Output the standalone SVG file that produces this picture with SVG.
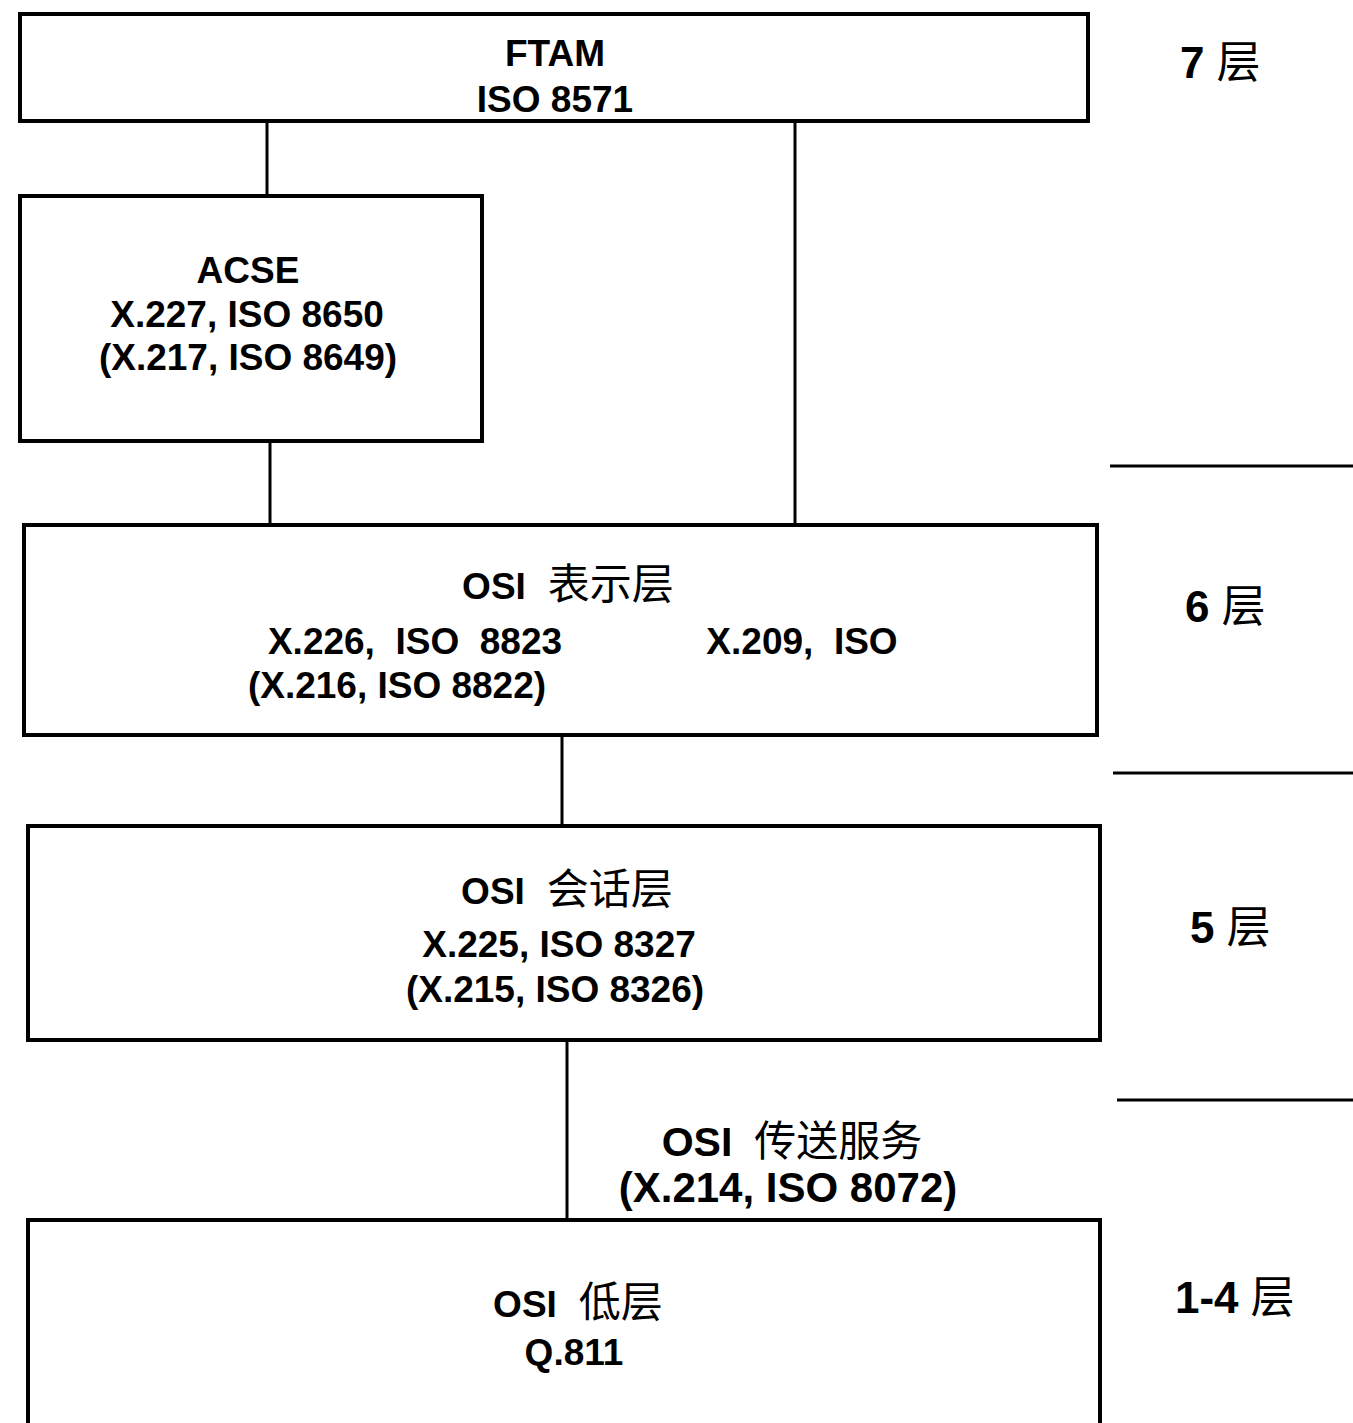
<svg xmlns="http://www.w3.org/2000/svg" width="1353" height="1423" viewBox="0 0 1353 1423">
<style>
.box{fill:#fff;stroke:#000;stroke-width:4}
.ln{stroke:#000;stroke-width:3;fill:none}
.t{font-family:"Liberation Sans","Noto Sans CJK SC",sans-serif;font-weight:bold;font-size:37px;fill:#000;text-anchor:middle}
.c{font-weight:normal;font-size:42px}
.lbl{font-family:"Liberation Sans","Noto Sans CJK SC",sans-serif;font-weight:bold;font-size:44px;fill:#000}
.lc{font-weight:normal;font-size:44px}
</style>
<rect width="1353" height="1423" fill="#fff"/>
<g id="connectors">
<line class="ln" x1="267" y1="121" x2="267" y2="196"/>
<line class="ln" x1="795" y1="121" x2="795" y2="525"/>
<line class="ln" x1="270" y1="441" x2="270" y2="525"/>
<line class="ln" x1="562" y1="735" x2="562" y2="826"/>
<line class="ln" x1="567" y1="1040" x2="567" y2="1220"/>
</g>
<g id="dividers">
<line class="ln" x1="1110" y1="466" x2="1353" y2="466"/>
<line class="ln" x1="1113" y1="773" x2="1353" y2="773"/>
<line class="ln" x1="1117" y1="1100" x2="1353" y2="1100"/>
</g>
<g id="ftam">
<rect class="box" x="20" y="14" width="1068" height="107"/>
<text class="t" x="555" y="66">FTAM</text>
<text class="t" x="555" y="112">ISO 8571</text>
</g>
<g id="acse">
<rect class="box" x="20" y="196" width="462" height="245"/>
<text class="t" x="248" y="283">ACSE</text>
<text class="t" x="247" y="327">X.227, ISO 8650</text>
<text class="t" x="248" y="370">(X.217, ISO 8649)</text>
</g>
<g id="presentation">
<rect class="box" x="24" y="525" width="1073" height="210"/>
<text class="t" x="568" y="599">OSI<tspan class="c" dx="22">表示层</tspan></text>
<text class="t" x="415" y="654" xml:space="preserve">X.226,  ISO  8823</text>
<text class="t" x="802" y="654" xml:space="preserve">X.209,  ISO</text>
<text class="t" x="397" y="698">(X.216, ISO 8822)</text>
</g>
<g id="session">
<rect class="box" x="28" y="826" width="1072" height="214"/>
<text class="t" x="567" y="904">OSI<tspan class="c" dx="22">会话层</tspan></text>
<text class="t" x="559" y="957">X.225, ISO 8327</text>
<text class="t" x="555" y="1002">(X.215, ISO 8326)</text>
</g>
<g id="transport">
<text class="t" x="792" y="1156" style="font-size:41px">OSI<tspan class="c" dx="22">传送服务</tspan></text>
<text class="t" x="788" y="1202" style="font-size:42px">(X.214, ISO 8072)</text>
</g>
<g id="lower">
<path class="box" d="M28 1430 V1220 H1100 V1430"/>
<text class="t" x="578" y="1317">OSI<tspan class="c" dx="22">低层</tspan></text>
<text class="t" x="574" y="1365">Q.811</text>
</g>
<g id="labels">
<text class="lbl" x="1180" y="78">7<tspan class="lc" dx="12">层</tspan></text>
<text class="lbl" x="1185" y="622">6<tspan class="lc" dx="12">层</tspan></text>
<text class="lbl" x="1190" y="943">5<tspan class="lc" dx="12">层</tspan></text>
<text class="lbl" x="1175" y="1313">1-4<tspan class="lc" dx="12">层</tspan></text>
</g>
</svg>
